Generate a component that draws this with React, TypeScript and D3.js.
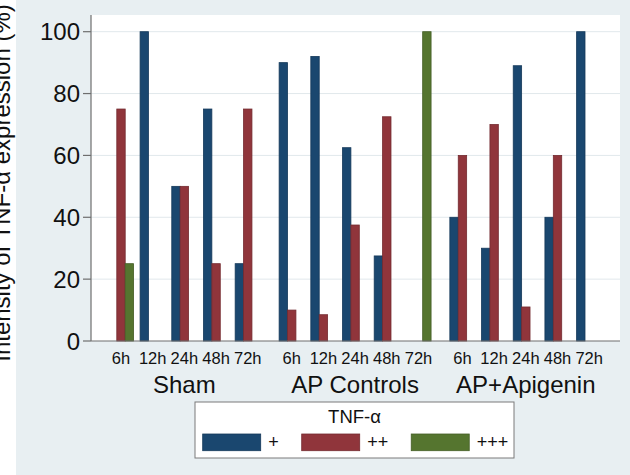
import * as d3 from 'd3'

const groups = ['Sham', 'AP Controls', 'AP+Apigenin']
const times = ['6h', '12h', '24h', '48h', '72h']
const levels = ['+', '++', '+++']
const colors = ['#1a476f', '#90353b', '#55752f']

// values per series, ordered Sham 6h..72h, AP Controls 6h..72h, AP+Apigenin 6h..72h
const plus1 = [0, 100, 50, 75, 25, 90, 92, 62.5, 27.5, 0, 40, 30, 89, 40, 100]
const plus2 = [75, 0, 50, 25, 75, 10, 8.5, 37.5, 72.5, 0, 60, 70, 11, 60, 0]
const plus3 = [25, 0, 0, 0, 0, 0, 0, 0, 0, 100, 0, 0, 0, 0, 0]
const yTicks = [0, 20, 40, 60, 80, 100]

const W = 630
const H = 475
const font = '"Liberation Sans", Arial, sans-serif'

export default function App() {
  const plot = { left: 91, right: 620, top: 15, bottom: 341 }
  const y = d3.scaleLinear().domain([0, 100]).range([plot.bottom, 31.7])
  const gx = d3.scaleBand().domain(groups).range([plot.left + 17.4, plot.right - 18.2]).paddingInner(0.11)
  const tx = d3.scaleBand().domain(times).range([0, gx.bandwidth()]).paddingInner(0.205)
  const sx = d3.scaleBand().domain(levels).range([0, tx.bandwidth()])

  const series = [plus1, plus2, plus3]
  const bars = series.flatMap((vals, si) =>
    vals.map((v, i) => ({
      group: groups[Math.floor(i / times.length)],
      time: times[i % times.length],
      level: levels[si],
      color: colors[si],
      v,
    }))
  ).filter((d) => d.v > 0)

  // legend layout
  const legFs = 18
  const swW = 58
  const swH = 16.7
  let lx = 202.7
  const legItems = levels.map((l, i) => {
    const item = { l, c: colors[i], x: lx }
    lx += swW + 7.5 + l.length * 0.584 * legFs + 23
    return item
  })

  return (
    <svg width={W} height={H} style={{ position: 'absolute', left: 0, top: 0, display: 'block' }} fontFamily={font}>
      <rect x={0} y={0} width={W} height={H} fill="#e8eff2" />
      <rect x={0} y={0} width={16} height={H} fill="#ffffff" />
      <rect x={plot.left} y={plot.top} width={plot.right - plot.left} height={plot.bottom - plot.top} fill="#ffffff" />

      {yTicks.filter((t) => t > 0).map((t) => (
        <line key={'g' + t} x1={plot.left} x2={plot.right} y1={y(t)} y2={y(t)} stroke="#e1e8ec" strokeWidth={1} />
      ))}

      {bars.map((d, i) => {
        const x0 = (gx(d.group) ?? 0) + (tx(d.time) ?? 0) + (sx(d.level) ?? 0)
        return (
          <rect
            key={i}
            x={x0}
            y={y(d.v)}
            width={sx.bandwidth()}
            height={y(0) - y(d.v)}
            fill={d.color}
            stroke={d3.color(d.color)?.darker(0.6).toString()}
            strokeWidth={0.8}
          />
        )
      })}

      <line x1={plot.left} x2={plot.left} y1={plot.top} y2={plot.bottom} stroke="#6e6e6e" strokeWidth={1.2} />
      <line x1={plot.left} x2={plot.right} y1={plot.bottom} y2={plot.bottom} stroke="#6e6e6e" strokeWidth={1.2} />

      {yTicks.map((t) => (
        <g key={'t' + t}>
          <line x1={plot.left - 8} x2={plot.left} y1={y(t)} y2={y(t)} stroke="#6e6e6e" strokeWidth={1.2} />
          <text x={plot.left - 11} y={y(t)} textAnchor="end" dominantBaseline="central" fontSize={24} fill="#111">
            {t}
          </text>
        </g>
      ))}

      {groups.map((g) => (
        <g key={g}>
          {times.map((t) => (
            <text
              key={t}
              x={(gx(g) ?? 0) + (tx(t) ?? 0) + tx.bandwidth() / 2}
              y={364}
              textAnchor="middle"
              fontSize={16.5}
              fill="#111"
            >
              {t}
            </text>
          ))}
          <text x={(gx(g) ?? 0) + gx.bandwidth() / 2} y={393} textAnchor="middle" fontSize={24} fill="#111">
            {g}
          </text>
        </g>
      ))}

      <text
        transform={`translate(10, ${(plot.top + plot.bottom) / 2 + 5}) rotate(-90)`}
        textAnchor="middle"
        fontSize={24}
        fill="#111"
      >
        Intensity of TNF-α expression (%)
      </text>

      <rect x={195} y={402} width={319} height={56} fill="#ffffff" stroke="#7a7a7a" strokeWidth={1} />
      <text x={354.5} y={423.3} textAnchor="middle" fontSize={18.5} fill="#111">TNF-α</text>
      {legItems.map((it) => (
        <g key={it.l}>
          <rect x={it.x} y={434} width={swW} height={swH} fill={it.c} stroke={d3.color(it.c)?.darker(0.6).toString()} strokeWidth={0.8} />
          <text x={it.x + swW + 7.5} y={434 + swH / 2} dominantBaseline="central" fontSize={legFs} fill="#111">
            {it.l}
          </text>
        </g>
      ))}
    </svg>
  )
}
